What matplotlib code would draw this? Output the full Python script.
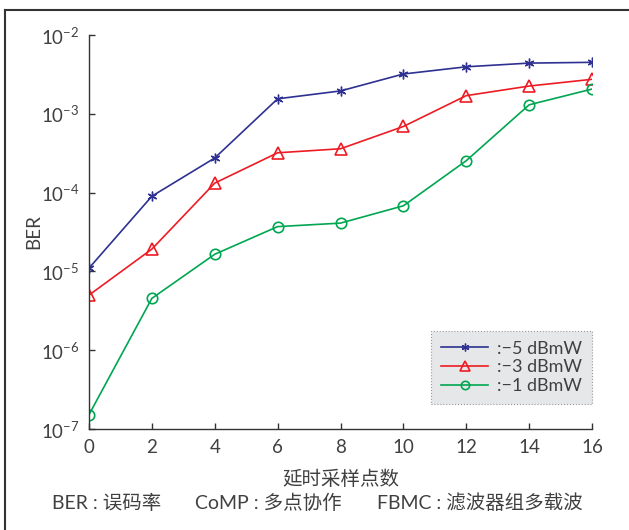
import matplotlib
matplotlib.use("Agg")
import matplotlib.pyplot as plt
from matplotlib.lines import Line2D
from matplotlib.ticker import FixedLocator, NullLocator

plt.rcParams['font.family'] = ['Lato', 'Noto Sans CJK SC', 'DejaVu Sans']
plt.rcParams['mathtext.fontset'] = 'custom'
plt.rcParams['mathtext.rm'] = 'Lato'

# Delay in sampling points
delay = [0, 2, 4, 6, 8, 10, 12, 14, 16]

# BER for each transmit power
ber_m5 = [1.1e-5, 9.0e-5, 2.75e-4, 1.55e-3, 1.95e-3, 3.2e-3, 3.95e-3, 4.4e-3, 4.5e-3]
ber_m3 = [5.0e-6, 1.92e-5, 1.32e-4, 3.2e-4, 3.6e-4, 6.9e-4, 1.7e-3, 2.25e-3, 2.74e-3]
ber_m1 = [1.52e-7, 4.55e-6, 1.65e-5, 3.7e-5, 4.1e-5, 6.8e-5, 2.54e-4, 1.30e-3, 2.06e-3]

labels = [':\u22125 dBmW', ':\u22123 dBmW', ':\u22121 dBmW']
y_ticks = [1e-7, 1e-6, 1e-5, 1e-4, 1e-3, 1e-2]
y_ticklabels = [r'$10^{-7}$', r'$10^{-6}$', r'$10^{-5}$', r'$10^{-4}$', r'$10^{-3}$', r'$10^{-2}$']

xlabel = '延时采样点数'
ylabel = 'BER'
caption_parts = ['BER : 误码率', 'CoMP : 多点协作', 'FBMC : 滤波器组多载波']
caption_x = [52, 195, 377]

text_col = '#404040'
W, H = 629, 530
fig = plt.figure(figsize=(W / 100, H / 100), dpi=100)
fig.patch.set_facecolor('white')

# axes placed in pixel terms
left, right, top, bottom = 89, 592, 35, 429
ax = fig.add_axes([left / W, 1 - bottom / H, (right - left) / W, (bottom - top) / H])

asterisk = (6, 2, 0)
ax.plot(delay, ber_m5, color='#2e3192', marker=asterisk, markersize=7, mew=1.0, lw=1.2, label=labels[0])
ax.plot(delay, ber_m3, color='#ed1c24', marker='^', markersize=9, mfc='none', mew=1.2, lw=1.2, label=labels[1])
ax.plot(delay, ber_m1, color='#00a651', marker='o', markersize=7.5, mfc='none', mew=1.2, lw=1.2, label=labels[2])

ax.set_yscale('log')
ax.set_ylim(1e-7, 1e-2)
ax.set_xlim(0, 16)
ax.set_xticks(delay)
ax.yaxis.set_major_locator(FixedLocator(y_ticks))
ax.set_yticklabels(y_ticklabels)
ax.yaxis.set_minor_locator(NullLocator())

for s in ['top', 'right']:
    ax.spines[s].set_visible(False)
for s in ['left', 'bottom']:
    ax.spines[s].set_color('#333333')
    ax.spines[s].set_linewidth(1.0)
ax.tick_params(direction='in', length=4, width=1.0, color='#333333',
               labelcolor=text_col, labelsize=13.5)
ax.tick_params(axis='x', pad=7)
ax.tick_params(axis='y', pad=7)

ax.set_xlabel(xlabel, fontsize=14, color=text_col, labelpad=10)
ax.set_ylabel(ylabel, fontsize=13.5, color=text_col)
ax.yaxis.set_label_coords((42 - left) / (right - left), 0.5)

leg = ax.legend(loc='lower right', bbox_to_anchor=(1.0, 0.0635), fontsize=13,
                frameon=True, fancybox=False, framealpha=1, handlelength=2.6,
                borderpad=0.55, labelspacing=0.15, handletextpad=0.5,
                borderaxespad=0.0, markerscale=0.8)
frame = leg.get_frame()
frame.set_facecolor('#e6e7e8')
frame.set_edgecolor('#9a9a9a')
frame.set_linestyle(':')
frame.set_linewidth(0.8)
for t in leg.get_texts():
    t.set_color(text_col)

for txt, x in zip(caption_parts, caption_x):
    fig.text(x / W, 1 - 503 / H, txt, fontsize=14, color=text_col,
             ha='left', va='center')

# figure border lines (top and left)
fig.add_artist(Line2D([5 / W, 1.0], [1 - 9.5 / H, 1 - 9.5 / H], transform=fig.transFigure,
                      color='#333333', lw=1.5))
fig.add_artist(Line2D([5 / W, 5 / W], [0.0, 1 - 9.5 / H], transform=fig.transFigure,
                      color='#333333', lw=1.5))

fig.savefig('out.png', dpi=100)
